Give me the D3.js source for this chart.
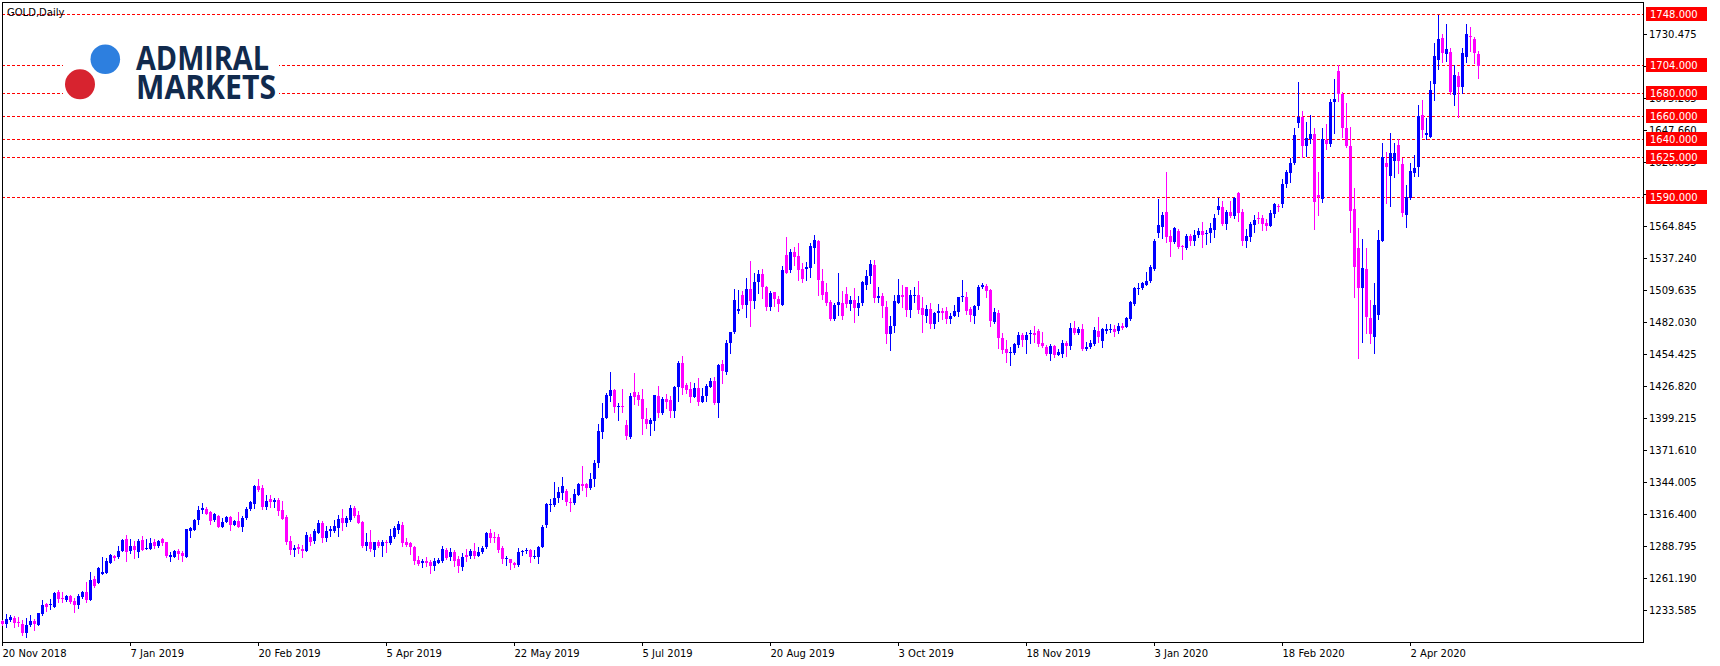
<!DOCTYPE html>
<html><head><meta charset="utf-8">
<script src="https://cdn.jsdelivr.net/npm/d3@7"></script>
<style>
html,body{margin:0;padding:0;background:#fff;}
svg{display:block;}
text{font-family:"DejaVu Sans",sans-serif;}
</style></head>
<body>
<svg id="chart" width="1720" height="666"></svg>
<script>
const symbolTitle = "GOLD,Daily";
const dateLabels = ["20 Nov 2018","7 Jan 2019","20 Feb 2019","5 Apr 2019","22 May 2019","5 Jul 2019","20 Aug 2019","3 Oct 2019","18 Nov 2019","3 Jan 2020","18 Feb 2020","2 Apr 2020"];
const dateLabelBars = [0,32,64,96,128,160,192,224,256,288,320,352];
const priceTicks = [1233.585,1261.190,1288.795,1316.400,1344.005,1371.610,1399.215,1426.820,1454.425,1482.030,1509.635,1537.240,1564.845,1592.450,1620.055,1647.660,1675.265,1702.870,1730.475];
const levels = [1748,1704,1680,1660,1640,1625,1590];

const open = [
1224.1,1221.2,1224.9,1226.4,1223.5,1221.2,1214.0,1220.3,1224.1,1220.9,
1230.1,1238.7,1237.6,1236.4,1249.1,1244.2,1242.2,1245.6,1241.6,1237.9,
1244.8,1249.4,1242.2,1260.6,1257.2,1264.6,1265.8,1273.9,1280.2,1279.0,
1284.5,1294.6,1284.5,1289.1,1283.9,1294.0,1285.9,1286.2,1292.6,1288.8,
1294.6,1292.0,1279.0,1279.6,1284.8,1283.1,1279.6,1302.1,1302.6,1311.3,
1319.9,1320.5,1318.5,1311.3,1315.0,1305.5,1309.5,1314.1,1307.2,1310.4,
1305.5,1312.7,1320.8,1325.1,1340.6,1338.9,1322.8,1329.1,1327.1,1328.5,
1319.9,1313.9,1293.4,1285.4,1287.7,1286.5,1284.8,1296.3,1293.4,1300.3,
1309.0,1296.0,1301.8,1301.8,1304.1,1313.0,1309.0,1311.3,1321.9,1315.6,
1309.8,1288.8,1292.6,1285.4,1292.6,1288.8,1292.6,1291.1,1296.9,1302.6,
1306.9,1292.6,1291.1,1288.2,1276.7,1273.9,1276.2,1275.3,1271.6,1274.4,
1276.2,1285.4,1279.6,1283.9,1277.3,1270.4,1281.1,1280.2,1284.8,1280.2,
1283.9,1287.7,1299.8,1296.9,1296.3,1286.8,1277.3,1277.3,1274.4,1272.4,
1283.3,1284.5,1285.4,1279.0,1279.6,1288.2,1306.9,1324.5,1324.5,1330.3,
1334.8,1336.6,1327.1,1326.2,1332.8,1342.3,1342.3,1338.6,1346.4,1360.2,
1387.5,1399.6,1418.6,1423.5,1408.8,1409.7,1393.3,1382.6,1421.5,1419.2,
1415.4,1398.5,1394.1,1397.0,1418.3,1403.3,1415.4,1414.9,1405.6,1425.8,
1447.1,1427.8,1424.1,1417.7,1424.9,1413.4,1418.3,1426.4,1431.3,1412.0,
1446.0,1439.3,1464.0,1474.0,1491.7,1505.5,1496.9,1510.4,1500.6,1517.0,
1523.6,1512.1,1495.4,1507.8,1502.3,1496.9,1540.0,1527.1,1542.9,1539.2,
1527.7,1528.2,1529.1,1546.4,1552.4,1517.9,1508.1,1499.5,1484.8,1496.9,
1498.3,1506.4,1497.7,1501.2,1494.0,1498.9,1514.1,1521.9,1531.4,1502.9,
1504.6,1495.4,1471.8,1478.7,1498.9,1505.5,1512.1,1492.5,1504.6,1505.5,
1494.0,1487.4,1493.1,1480.5,1489.7,1491.7,1491.7,1484.5,1487.4,1491.1,
1503.5,1503.5,1493.1,1487.4,1496.0,1512.7,1513.3,1509.8,1482.5,1489.7,
1468.1,1458.6,1455.1,1455.1,1462.3,1470.9,1466.6,1471.5,1473.0,1474.4,
1464.3,1460.9,1454.5,1461.5,1453.7,1454.5,1464.3,1461.5,1476.7,1473.0,
1475.8,1458.6,1460.3,1463.2,1474.7,1466.1,1474.4,1475.3,1475.8,1474.7,
1478.7,1478.1,1484.5,1497.7,1510.4,1511.2,1514.1,1517.9,1527.6,1559.3,
1563.9,1577.4,1556.4,1551.5,1561.0,1547.8,1546.0,1556.4,1551.8,1557.3,
1561.0,1558.2,1558.8,1561.6,1578.9,1581.7,1566.8,1577.4,1573.7,1593.8,
1577.1,1552.4,1555.8,1566.1,1571.7,1571.7,1567.9,1565.0,1575.4,1582.3,
1584.0,1601.3,1611.1,1619.1,1654.3,1659.4,1634.1,1640.0,1644.5,1591.8,
1588.1,1639.3,1635.8,1671.8,1699.2,1679.0,1649.4,1634.1,1579.4,1545.8,
1511.2,1527.6,1485.3,1469.5,1488.2,1552.4,1619.1,1608.5,1621.5,1635.0,
1618.6,1574.5,1588.9,1610.5,1616.3,1660.9,1643.6,1642.2,1687.6,1708.4,
1727.1,1713.6,1715.0,1678.2,1694.5,1684.8,1711.2,1729.1,1726.2,1713.5];

const high = [
1225.0,1229.8,1229.0,1228.4,1227.2,1224.6,1226.4,1229.0,1225.5,1230.7,
1242.2,1239.9,1242.8,1248.8,1250.8,1249.1,1246.8,1246.8,1243.6,1247.7,
1249.7,1257.7,1266.4,1262.9,1270.4,1279.0,1278.7,1281.9,1281.4,1288.5,
1295.1,1298.3,1294.6,1293.4,1294.6,1297.5,1294.6,1295.4,1294.9,1294.0,
1295.4,1292.3,1283.9,1285.4,1286.2,1284.5,1303.5,1304.9,1311.8,1323.4,
1326.2,1322.8,1318.8,1317.0,1315.6,1312.7,1314.7,1314.7,1311.3,1318.5,
1314.7,1322.2,1328.0,1341.8,1346.7,1341.5,1332.9,1332.9,1330.0,1330.0,
1327.7,1315.6,1297.5,1289.7,1290.5,1289.7,1301.2,1299.2,1303.2,1311.3,
1310.4,1306.1,1306.1,1311.3,1315.6,1320.5,1314.7,1324.2,1323.4,1319.0,
1310.0,1299.8,1302.6,1292.6,1294.0,1294.0,1294.0,1303.5,1306.1,1310.4,
1309.8,1296.0,1292.6,1288.8,1280.2,1277.3,1279.6,1276.7,1278.2,1278.2,
1288.8,1286.8,1286.8,1285.4,1280.2,1282.5,1285.9,1285.9,1291.1,1287.7,
1288.8,1301.2,1303.2,1301.2,1299.2,1288.8,1280.2,1277.9,1275.3,1287.1,
1285.4,1286.8,1286.0,1285.4,1288.8,1306.7,1326.2,1329.1,1344.1,1340.0,
1348.7,1337.7,1330.0,1338.3,1342.9,1357.9,1343.5,1351.5,1363.1,1394.1,
1412.6,1420.6,1439.0,1424.6,1412.6,1424.4,1397.6,1421.2,1438.5,1422.0,
1424.4,1408.2,1399.0,1419.5,1427.0,1417.7,1420.0,1418.3,1427.0,1448.8,
1452.8,1429.8,1430.1,1429.2,1433.6,1424.9,1428.7,1433.6,1435.0,1446.0,
1449.4,1467.0,1474.0,1510.4,1509.8,1509.2,1520.5,1534.9,1524.8,1527.1,
1528.0,1513.3,1509.2,1508.4,1504.9,1530.5,1555.9,1544.9,1546.6,1550.7,
1533.4,1534.3,1550.1,1557.6,1553.0,1528.0,1516.1,1501.2,1498.3,1524.8,
1509.2,1512.1,1504.6,1511.3,1504.6,1517.9,1527.1,1535.7,1535.7,1512.1,
1506.9,1500.6,1487.4,1505.5,1519.3,1514.1,1512.1,1509.8,1512.1,1517.6,
1503.5,1496.9,1498.3,1491.1,1497.7,1494.6,1495.4,1489.7,1496.9,1504.1,
1518.4,1507.8,1494.9,1496.9,1514.1,1516.1,1515.0,1510.4,1494.0,1492.5,
1473.0,1466.6,1460.9,1464.3,1473.8,1472.4,1473.8,1475.3,1478.7,1475.8,
1473.8,1462.3,1463.2,1462.3,1458.6,1466.6,1466.1,1481.6,1483.3,1477.6,
1480.5,1465.2,1466.6,1478.1,1486.8,1476.7,1480.5,1480.5,1479.6,1481.0,
1481.0,1486.8,1500.6,1512.7,1515.6,1517.0,1525.6,1531.4,1553.5,1588.1,
1577.4,1612.0,1561.6,1563.9,1562.2,1548.7,1558.2,1558.2,1561.6,1563.0,
1568.8,1561.6,1568.0,1575.4,1588.9,1586.9,1578.9,1586.9,1590.4,1594.7,
1579.4,1562.2,1568.8,1574.5,1577.1,1574.5,1570.8,1578.8,1585.2,1584.0,
1605.6,1613.4,1623.5,1649.4,1689.7,1664.6,1655.1,1660.9,1649.4,1611.9,
1649.4,1653.1,1674.4,1691.9,1704.0,1681.0,1671.5,1650.8,1597.6,1563.0,
1553.5,1545.8,1501.2,1515.5,1561.6,1636.4,1629.2,1645.0,1636.4,1639.9,
1623.5,1600.4,1619.7,1626.4,1669.5,1673.8,1658.0,1690.2,1722.8,1747.2,
1730.8,1739.4,1718.4,1704.0,1698.3,1718.4,1739.4,1736.6,1728.5,1716.4];

const low = [
1220.5,1219.2,1224.4,1219.2,1219.7,1212.0,1210.5,1220.0,1216.0,1220.9,
1229.2,1233.0,1234.1,1236.4,1240.8,1240.8,1241.6,1239.9,1231.8,1235.6,
1244.2,1240.8,1242.2,1253.7,1257.2,1264.6,1265.8,1273.9,1276.7,1278.7,
1284.5,1276.2,1282.5,1278.7,1279.6,1285.4,1285.9,1286.2,1287.4,1288.2,
1289.7,1279.6,1276.2,1279.0,1277.3,1276.2,1279.0,1296.3,1302.6,1307.8,
1317.0,1316.2,1307.8,1310.7,1304.9,1304.9,1309.5,1302.6,1306.7,1304.9,
1302.1,1311.8,1319.9,1321.9,1336.3,1320.5,1320.8,1322.8,1322.8,1315.6,
1312.1,1290.5,1282.2,1280.5,1283.1,1279.6,1284.8,1290.0,1291.7,1299.8,
1292.6,1293.4,1297.5,1301.2,1297.5,1302.6,1306.1,1310.4,1314.1,1308.4,
1287.7,1285.4,1284.8,1280.2,1288.2,1280.2,1283.9,1290.5,1296.0,1300.3,
1289.1,1288.8,1281.9,1273.0,1272.4,1270.4,1271.6,1265.8,1268.1,1273.9,
1275.3,1277.3,1276.7,1271.6,1266.7,1268.1,1276.2,1278.2,1278.2,1280.2,
1282.5,1286.8,1292.6,1292.6,1283.9,1274.4,1272.4,1268.7,1271.0,1271.5,
1281.0,1282.5,1275.3,1278.7,1274.4,1288.0,1305.5,1319.3,1323.3,1327.1,
1329.7,1324.2,1319.3,1325.0,1332.5,1337.2,1332.0,1337.7,1340.6,1357.3,
1382.3,1399.0,1414.3,1404.8,1397.6,1404.8,1381.5,1382.3,1411.4,1410.5,
1385.5,1390.4,1384.6,1389.0,1400.5,1402.8,1407.7,1400.5,1399.9,1414.3,
1419.7,1420.6,1413.4,1417.2,1410.5,1413.4,1414.3,1425.8,1411.4,1399.9,
1429.8,1437.3,1455.7,1473.0,1489.7,1494.0,1486.8,1478.7,1494.0,1507.5,
1503.2,1492.5,1492.5,1496.0,1492.0,1496.9,1524.5,1525.6,1531.4,1518.4,
1517.0,1518.4,1521.3,1533.4,1505.5,1502.3,1496.9,1483.9,1483.9,1488.2,
1484.5,1494.9,1492.5,1482.5,1488.2,1496.9,1510.4,1515.6,1499.7,1499.7,
1486.8,1464.3,1458.0,1473.8,1498.3,1495.4,1487.4,1486.8,1499.7,1490.2,
1473.8,1482.5,1476.7,1476.7,1483.3,1484.5,1481.6,1481.0,1487.0,1487.4,
1500.6,1489.1,1483.3,1481.0,1493.1,1511.3,1503.5,1478.7,1481.6,1459.4,
1455.1,1447.9,1445.0,1454.5,1460.9,1461.5,1455.7,1464.3,1465.2,1461.5,
1460.9,1453.7,1449.4,1451.7,1453.4,1451.7,1452.8,1458.6,1471.8,1471.8,
1458.0,1458.0,1459.4,1462.3,1465.2,1460.9,1473.0,1473.8,1470.1,1473.0,
1475.8,1477.6,1483.9,1496.9,1506.4,1510.4,1514.1,1517.0,1527.1,1555.3,
1554.4,1551.5,1539.2,1550.7,1545.8,1536.3,1544.9,1548.7,1548.7,1555.3,
1546.6,1549.5,1551.5,1555.9,1575.4,1565.9,1562.2,1572.5,1571.7,1569.7,
1548.6,1547.2,1552.4,1560.2,1567.3,1561.6,1561.6,1565.0,1573.1,1578.3,
1581.7,1599.0,1603.3,1618.6,1650.8,1624.9,1625.5,1637.0,1562.2,1574.5,
1586.0,1631.2,1634.1,1645.1,1673.3,1641.6,1633.0,1560.1,1504.0,1450.8,
1465.2,1472.4,1463.7,1455.1,1484.5,1552.4,1585.2,1582.6,1607.6,1611.1,
1573.7,1564.5,1588.1,1608.2,1608.2,1642.2,1639.9,1641.6,1673.8,1700.3,
1706.9,1707.8,1679.0,1669.5,1659.4,1679.6,1706.9,1716.4,1706.1,1692.5];

const close = [
1221.2,1225.5,1227.2,1222.6,1222.1,1214.0,1220.6,1223.8,1221.8,1230.7,
1237.9,1236.4,1238.5,1248.0,1243.4,1242.8,1245.6,1240.5,1237.6,1245.6,
1249.1,1242.2,1259.5,1254.3,1269.5,1266.1,1275.9,1281.1,1278.2,1284.8,
1294.0,1283.9,1288.8,1285.4,1293.4,1285.4,1287.1,1291.7,1288.8,1293.4,
1291.1,1280.2,1281.1,1284.8,1281.9,1280.5,1303.2,1304.1,1311.3,1319.9,
1321.9,1316.4,1310.7,1316.4,1305.5,1309.8,1314.1,1306.9,1310.4,1305.5,
1312.7,1320.5,1326.8,1340.9,1337.2,1322.8,1327.7,1327.1,1328.5,1319.0,
1312.1,1292.6,1285.4,1287.4,1286.0,1284.8,1298.3,1292.6,1302.1,1309.0,
1295.5,1301.8,1303.8,1306.1,1311.8,1308.4,1313.3,1321.3,1315.0,1309.0,
1288.8,1292.6,1286.0,1292.0,1288.8,1292.6,1291.1,1297.5,1304.6,1307.8,
1291.7,1289.7,1287.7,1276.2,1273.3,1275.9,1274.4,1271.6,1275.9,1276.7,
1285.9,1278.2,1283.9,1276.2,1271.6,1279.0,1279.6,1284.8,1280.2,1283.9,
1286.8,1300.3,1295.5,1296.0,1285.4,1277.3,1278.2,1273.8,1272.1,1283.6,
1284.5,1285.4,1279.0,1280.2,1287.7,1304.9,1325.0,1325.0,1330.0,1335.4,
1340.6,1327.1,1326.2,1333.7,1342.3,1340.6,1338.9,1346.4,1360.2,1388.4,
1399.0,1419.2,1423.5,1408.5,1409.7,1408.8,1383.8,1418.3,1417.7,1414.9,
1398.5,1394.1,1397.6,1419.2,1403.3,1415.4,1413.1,1405.6,1425.8,1447.1,
1424.9,1423.5,1417.2,1424.9,1413.4,1418.3,1427.0,1431.3,1412.0,1445.1,
1440.2,1463.8,1474.0,1501.2,1493.1,1496.9,1510.4,1500.6,1517.0,1523.6,
1512.7,1495.4,1506.9,1502.3,1497.7,1527.1,1524.8,1542.9,1538.6,1527.1,
1519.6,1530.0,1547.8,1553.0,1518.4,1505.5,1498.9,1484.8,1496.9,1499.7,
1487.4,1497.7,1501.2,1494.0,1498.3,1517.0,1521.9,1532.3,1502.6,1504.6,
1496.0,1471.8,1478.7,1500.6,1505.5,1504.1,1492.5,1505.2,1505.5,1492.5,
1488.2,1493.1,1480.5,1489.7,1491.7,1490.2,1484.5,1487.4,1491.7,1503.5,
1504.6,1492.0,1488.2,1496.0,1512.7,1514.1,1509.2,1483.3,1490.5,1468.1,
1458.0,1455.7,1456.6,1463.2,1470.9,1466.6,1470.9,1473.0,1470.9,1463.2,
1461.5,1454.5,1461.5,1453.7,1456.6,1464.3,1461.5,1476.7,1473.0,1475.8,
1458.6,1460.9,1464.3,1475.3,1469.5,1475.8,1475.8,1475.8,1473.8,1478.7,
1476.7,1485.3,1499.7,1511.8,1511.2,1515.6,1517.9,1530.0,1552.4,1565.9,
1574.6,1555.3,1551.5,1563.0,1546.6,1546.6,1556.4,1552.4,1557.3,1561.0,
1557.3,1559.3,1563.0,1571.7,1582.3,1566.8,1577.4,1573.7,1588.9,1576.6,
1552.4,1556.4,1566.8,1570.2,1570.8,1566.8,1565.0,1576.0,1583.8,1581.2,
1601.3,1611.4,1619.1,1643.6,1659.4,1634.1,1641.3,1644.5,1586.0,1589.8,
1639.9,1635.8,1672.4,1674.7,1679.0,1649.4,1634.1,1578.3,1529.4,1511.2,
1528.5,1486.2,1471.8,1496.8,1552.9,1624.9,1616.3,1628.4,1627.8,1621.5,
1576.0,1590.4,1612.8,1615.4,1660.0,1647.9,1645.6,1682.5,1711.8,1726.2,
1714.7,1717.6,1681.0,1695.4,1684.8,1714.7,1730.8,1727.9,1714.1,1703.2];

const W = 1720, H = 666;
const frame = {left: 2, top: 2, right: 1643, bottom: 642};
const svg = d3.select("#chart");
svg.append("rect").attr("width", W).attr("height", H).attr("fill", "#fff");

const n = close.length;
const bars = d3.range(n).map(i => ({i, o: open[i], h: high[i], l: low[i], c: close[i]}));

const x = d3.scaleLinear().domain([0, 1]).range([2, 6]);
const y = d3.scaleLinear().domain([1233.585, 1730.475]).range([610, 34.4]);

// level lines (under candles)
const lv = svg.append("g").attr("shape-rendering", "crispEdges");
lv.selectAll("line").data(levels).join("line")
  .attr("x1", frame.left).attr("x2", frame.right)
  .attr("y1", d => Math.round(y(d)) + 0.5).attr("y2", d => Math.round(y(d)) + 0.5)
  .attr("stroke", "#ff0000").attr("stroke-width", 1).attr("stroke-dasharray", "3,2");

// frame
svg.append("rect").attr("x", frame.left + 0.5).attr("y", frame.top + 0.5)
  .attr("width", frame.right - frame.left).attr("height", frame.bottom - frame.top)
  .attr("fill", "none").attr("stroke", "#000").attr("shape-rendering", "crispEdges");

// title
svg.append("text").attr("x", 7).attr("y", 16).attr("font-size", 10).attr("fill", "#000").text(symbolTitle);

// logo
const logo = svg.append("g");
logo.append("rect").attr("x", 63).attr("y", 36).attr("width", 216).attr("height", 68).attr("fill", "#fff");
logo.append("circle").attr("cx", 105.3).attr("cy", 59.3).attr("r", 14.8).attr("fill", "#2d7fdf");
logo.append("circle").attr("cx", 80).attr("cy", 84.3).attr("r", 15).attr("fill", "#d7232f");
logo.append("text").attr("x", 136).attr("y", 70).attr("font-size", 34).attr("font-weight", "bold")
  .style("font-family", "'Open Sans','DejaVu Sans',sans-serif").attr("fill", "#112a4d")
  .attr("textLength", 133).attr("lengthAdjust", "spacingAndGlyphs").text("ADMIRAL");
logo.append("text").attr("x", 136).attr("y", 99).attr("font-size", 34).attr("font-weight", "bold")
  .style("font-family", "'Open Sans','DejaVu Sans',sans-serif").attr("fill", "#112a4d")
  .attr("textLength", 140).attr("lengthAdjust", "spacingAndGlyphs").text("MARKETS");

// candles
const up = "#0000ff", dn = "#ff00ff";
const cg = svg.append("g").attr("shape-rendering", "crispEdges");
const cand = cg.selectAll("g").data(bars).join("g");
cand.append("rect")
  .attr("x", d => Math.round(x(d.i)))
  .attr("y", d => Math.round(y(d.h)))
  .attr("width", 1)
  .attr("height", d => Math.round(y(d.l)) - Math.round(y(d.h)) + 1)
  .attr("fill", d => d.c >= d.o ? up : dn);
cand.append("rect")
  .attr("x", d => Math.round(x(d.i)) - 1)
  .attr("y", d => Math.round(y(Math.max(d.o, d.c))))
  .attr("width", 3)
  .attr("height", d => Math.max(1, Math.round(y(Math.min(d.o, d.c))) - Math.round(y(Math.max(d.o, d.c)))))
  .attr("fill", d => d.c >= d.o ? up : dn);

// right price axis
const ya = d3.axisRight(y).tickValues(priceTicks).tickSize(4).tickSizeOuter(0).tickPadding(2)
  .tickFormat(d3.format(".3f"));
const yg = svg.append("g").attr("transform", `translate(${frame.right},0)`).call(ya);
yg.select(".domain").remove();
yg.selectAll("line").attr("stroke", "#000").attr("shape-rendering", "crispEdges");
yg.selectAll("text").attr("font-size", 10).attr("fill", "#000")
  .style("font-family", "'DejaVu Sans',sans-serif");
yg.attr("font-size", null).attr("font-family", null);

// level price boxes
const lb = svg.append("g");
lb.selectAll("rect").data(levels).join("rect")
  .attr("x", 1646).attr("y", d => Math.round(y(d)) - 7).attr("width", 61).attr("height", 14)
  .attr("fill", "#ff0000").attr("shape-rendering", "crispEdges");
lb.selectAll("text").data(levels).join("text")
  .attr("x", 1650).attr("y", d => Math.round(y(d)) + 0.5).attr("dy", "0.35em")
  .attr("font-size", 10).attr("fill", "#fff").text(d => d3.format(".3f")(d));

// bottom time axis
const xa = d3.axisBottom(x).tickValues(dateLabelBars).tickSize(4).tickSizeOuter(0).tickPadding(4)
  .tickFormat((d, k) => dateLabels[k]);
const xg = svg.append("g").attr("transform", `translate(0,${frame.bottom})`).call(xa);
xg.select(".domain").remove();
xg.selectAll("line").attr("stroke", "#000").attr("shape-rendering", "crispEdges");
xg.selectAll("text").attr("font-size", 10).attr("fill", "#000").attr("text-anchor", "start")
  .style("font-family", "'DejaVu Sans',sans-serif");
xg.attr("font-size", null).attr("font-family", null);
</script>
</body></html>
